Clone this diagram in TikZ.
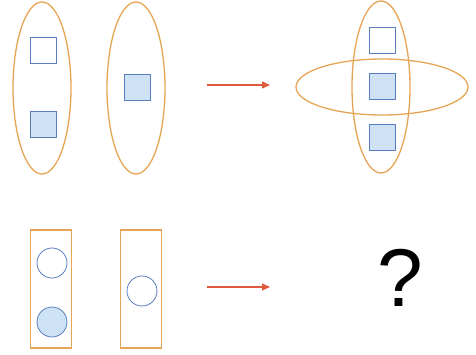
\documentclass[tikz,border=0pt]{standalone}
\usepackage{fontspec}
\setmainfont{Liberation Sans}
\usepackage{tikz}
\usetikzlibrary{arrows.meta,positioning,shapes.geometric}
\definecolor{setorange}{RGB}{230,165,85}
\definecolor{elemblue}{RGB}{90,125,190}
\definecolor{elemfill}{RGB}{205,226,245}
\definecolor{arrowred}{RGB}{222,90,60}

\begin{document}
\begin{tikzpicture}[
x=1pt,y=-1pt,
vset/.style={draw=setorange,ellipse,line width=1.3pt,minimum width=58pt,minimum height=172pt,inner sep=0pt},
hset/.style={vset,minimum width=172pt,minimum height=56pt},
rset/.style={draw=setorange,line width=1.3pt,minimum width=41pt,minimum height=118pt,inner sep=0pt},
sq/.style={draw=elemblue,line width=0.8pt,minimum size=26pt,inner sep=0pt},
sqf/.style={sq,fill=elemfill},
ci/.style={draw=elemblue,circle,line width=0.8pt,minimum size=30pt,inner sep=0pt},
cif/.style={ci,fill=elemfill},
arr/.style={-{Triangle[length=8pt,width=7pt]},draw=arrowred,line width=1.2pt}
]
\useasboundingbox (0,0) rectangle (476,355);
% top row
\node[vset] (setA) at (42,88) {};
\node[sq] (a1) at (43,50) {};
\node[sqf] (a2) at (43,124) {};
\node[vset] (setB) at (136,88) {};
\node[sqf] (b1) at (137,87) {};
\coordinate (topfrom) at (207,85);
\coordinate (topto) at (270,85);
\draw[arr] (topfrom)--(topto);
\node[vset] (setC) at (381,87) {};
\node[hset] (setD) at (382,87) {};
\node[sq] (c1) at (382,40) {};
\node[sqf] (c2) at (382,86) {};
\node[sqf] (c3) at (382,137) {};
% bottom row
\node[rset] (boxA) at (51,289) {};
\node[ci] (d1) at (52,263) {};
\node[cif] (d2) at (52,322) {};
\node[rset] (boxB) at (141,289) {};
\node[ci] (e1) at (142,291) {};
\coordinate (botfrom) at (207,287);
\coordinate (botto) at (270,287);
\draw[arr] (botfrom)--(botto);
\node[inner sep=0pt] (ask) at (400,278) {\fontsize{82}{82}\selectfont ?};
\end{tikzpicture}
\end{document}
